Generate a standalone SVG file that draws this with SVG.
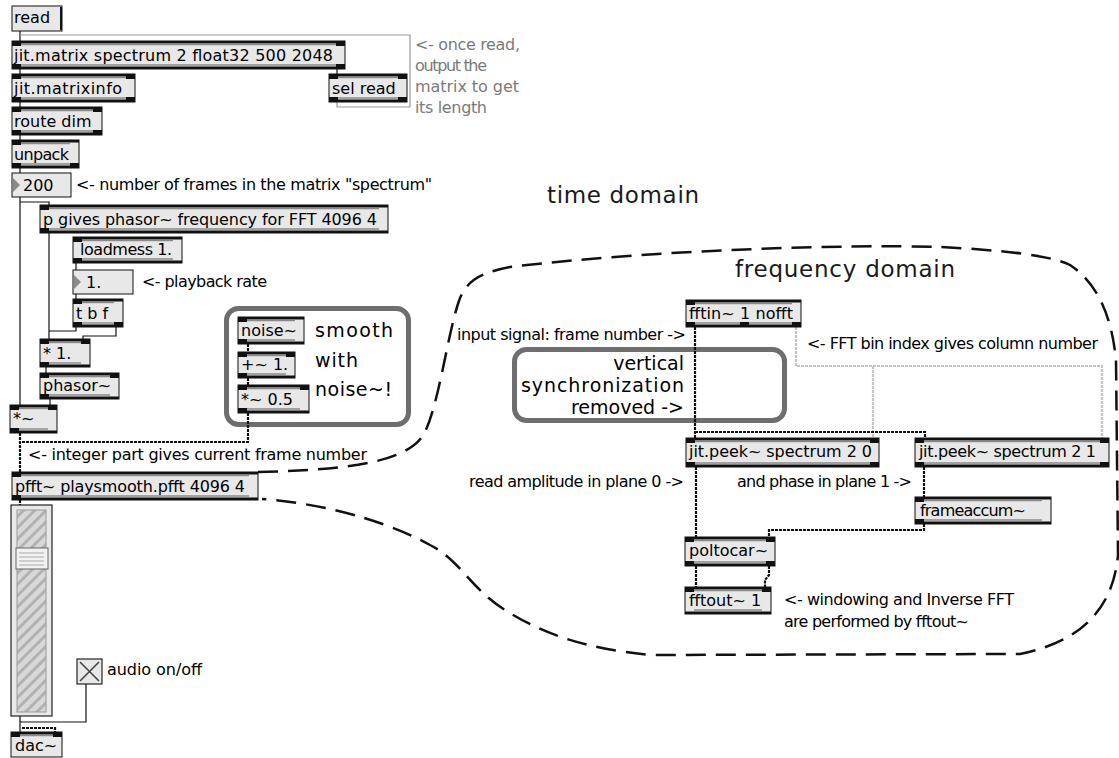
<svg xmlns="http://www.w3.org/2000/svg" width="1119" height="758" viewBox="0 0 1119 758">
<style>
.body{fill:#e8e8e8;stroke:#111;stroke-width:1}
.bar{fill:#111}
.hl{stroke:#8a8a8a;stroke-width:1.4}
.t{font-family:"DejaVu Sans",sans-serif;font-size:16px;fill:#000}
.g{fill:#7a7a7a}
.big{font-family:"DejaVu Sans",sans-serif;font-size:19px;fill:#000}
.dom{font-family:"DejaVu Sans",sans-serif;font-size:23px;fill:#1a1a1a}
.w{fill:none;stroke:#111;stroke-width:1.2}
.gw{fill:none;stroke:#999;stroke-width:1.2}
.sig{fill:none;stroke:#111;stroke-width:2.2;stroke-dasharray:3 1}
.gsig{fill:none;stroke:#c4c4c4;stroke-width:2.2;stroke-dasharray:3 1}
.frame{fill:#fff;stroke:#6e6e6e;stroke-width:5}
.domain{fill:none;stroke:#111;stroke-width:2.5;stroke-dasharray:20 10}
.num{fill:#e8e8e8;stroke:#111;stroke-width:1}
.tri{fill:#8a8a8a}
</style>
<defs>
<pattern id="stripes" width="8" height="8" patternUnits="userSpaceOnUse" patternTransform="rotate(45)">
<rect width="8" height="8" fill="#d8d8d8"/><rect width="3" height="8" fill="#b2b2b2"/>
</pattern>
</defs>
<rect width="1119" height="758" fill="#fff"/>

<g id="domains">
<path class="domain" d="M258,472 C350,470 410,462 425,432 C440,400 448,330 460,298 C468,280 480,273 510,267 C650,250 850,244 940,247 C1000,250 1050,255 1070,265 C1100,285 1112,320 1116,360 L1118,555 C1114,600 1090,640 1020,654 L650,655 C580,648 540,632 505,610 C470,588 460,560 430,545 C400,528 340,505 262,499"/>
<text class="dom" x="547" y="203" textLength="152">time domain</text>
<text class="dom" x="735" y="277" textLength="220">frequency domain</text>
</g>

<g id="frames">
<rect class="frame" x="226.5" y="308.5" width="182" height="116" rx="12"/>
<rect class="frame" x="514.5" y="349.5" width="270" height="71" rx="12"/>
<text class="big" x="315" y="337" textLength="78">smooth</text>
<text class="big" x="315" y="367" textLength="43">with</text>
<text class="big" x="315" y="396" textLength="77">noise~!</text>
<text class="big" x="684" y="370" text-anchor="end">vertical</text>
<text class="big" x="684" y="392" text-anchor="end" textLength="163">synchronization</text>
<text class="big" x="684" y="414" text-anchor="end">removed -&gt;</text>
</g>

<g id="connectors">
<path class="w" d="M20,31 V41"/>
<path class="gw" d="M337,102 V107 H410 V35 H20"/>
<path class="w" d="M20,69 V74 M337,69 V74 M20,102 V107 M20,135 V140 M20,168 V173"/>
<path class="w" d="M20,197 V405 M20,202 H49 V205"/>
<path class="w" d="M49,233 V339"/>
<path class="w" d="M76,263 V270 M76,294 V299"/>
<path class="w" d="M76,327 V331 H49"/>
<path class="w" d="M116,327 V336 H83 V339"/>
<path class="w" d="M46,367 V373 M50,399 V405"/>
<path class="sig" d="M248,344 V352 M248,378 V385"/>
<path class="sig" d="M248,413 V442 H20 M20,433 V472"/>
<path class="sig" d="M20,500 V505"/>
<path class="w" d="M20,716 V732 M86,684 V722 H20"/>
<path class="sig" d="M22,728 H55 V732"/>
<path class="gsig" d="M796,327 V366 H1102 V438 M873,366 V438"/>
<path class="sig" d="M695,327 V438 M695,432 H925 V438"/>
<path class="sig" d="M696,467 V537"/>
<path class="sig" d="M924,467 V497"/>
<path class="sig" d="M924,524 V530 H769 V537"/>
<path class="sig" d="M696,566 V587 M769,566 V575 L765,580 V587"/>
</g>

<g id="comments">
<text class="t g" x="415" y="50" textLength="105">&lt;- once read,</text>
<text class="t g" x="415" y="71" textLength="72">output the</text>
<text class="t g" x="415" y="92" textLength="104">matrix to get</text>
<text class="t g" x="415" y="113" textLength="72">its length</text>
<text class="t" x="76" y="190" textLength="356">&lt;- number of frames in the matrix "spectrum"</text>
<text class="t" x="142" y="287" textLength="125">&lt;- playback rate</text>
<text class="t" x="28" y="460" textLength="339">&lt;- integer part gives current frame number</text>
<text class="t" x="107" y="675" textLength="95">audio on/off</text>
<text class="t" x="457" y="340" textLength="229">input signal: frame number -&gt;</text>
<text class="t" x="807" y="349" textLength="291">&lt;- FFT bin index gives column number</text>
<text class="t" x="469" y="487" textLength="215">read amplitude in plane 0 -&gt;</text>
<text class="t" x="737" y="487" textLength="175">and phase in plane 1 -&gt;</text>
<text class="t" x="784" y="605" textLength="230">&lt;- windowing and Inverse FFT</text>
<text class="t" x="784" y="627" textLength="185">are performed by fftout~</text>
</g>

<g id="n-read">
<rect class="num" x="12" y="6" width="50" height="25"/>
<line x1="61" y1="7" x2="61" y2="30" stroke="#111" stroke-width="2"/>
<text class="t" x="14" y="23">read</text>
</g>

<g id="n-jitmatrix">
<rect class="body" x="12" y="41" width="333" height="28"/>
<rect class="bar" x="12" y="41" width="333" height="2.5"/><rect class="bar" x="12" y="41" width="9" height="5"/><rect class="bar" x="336" y="41" width="9" height="5"/>
<line class="hl" x1="21" y1="44.5" x2="336" y2="44.5"/><line class="hl" x1="21" y1="65" x2="336" y2="65"/>
<rect class="bar" x="12" y="66.5" width="333" height="2.5"/><rect class="bar" x="12" y="64" width="9" height="5"/><rect class="bar" x="336" y="64" width="9" height="5"/>
<text class="t" x="14" y="61" textLength="319">jit.matrix spectrum 2 float32 500 2048</text>
</g>

<g id="n-matrixinfo">
<rect class="body" x="12" y="74" width="123" height="28"/>
<rect class="bar" x="12" y="74" width="123" height="2.5"/><rect class="bar" x="12" y="74" width="9" height="5"/><rect class="bar" x="126" y="74" width="9" height="5"/>
<line class="hl" x1="21" y1="77.5" x2="126" y2="77.5"/><line class="hl" x1="21" y1="98" x2="126" y2="98"/>
<rect class="bar" x="12" y="99.5" width="123" height="2.5"/><rect class="bar" x="12" y="97" width="9" height="5"/><rect class="bar" x="126" y="97" width="9" height="5"/>
<text class="t" x="14" y="94" textLength="108">jit.matrixinfo</text>
</g>

<g id="n-selread">
<rect class="body" x="329" y="74" width="78" height="28"/>
<rect class="bar" x="329" y="74" width="78" height="2.5"/><rect class="bar" x="329" y="74" width="9" height="5"/><rect class="bar" x="398" y="74" width="9" height="5"/>
<line class="hl" x1="338" y1="77.5" x2="398" y2="77.5"/><line class="hl" x1="338" y1="98" x2="398" y2="98"/>
<rect class="bar" x="329" y="99.5" width="78" height="2.5"/><rect class="bar" x="329" y="97" width="9" height="5"/><rect class="bar" x="398" y="97" width="9" height="5"/>
<text class="t" x="332" y="94">sel read</text>
</g>

<g id="n-routedim">
<rect class="body" x="12" y="107" width="90" height="28"/>
<rect class="bar" x="12" y="107" width="90" height="2.5"/><rect class="bar" x="12" y="107" width="9" height="5"/><rect class="bar" x="93" y="107" width="9" height="5"/>
<line class="hl" x1="21" y1="110.5" x2="93" y2="110.5"/><line class="hl" x1="21" y1="131" x2="93" y2="131"/>
<rect class="bar" x="12" y="132.5" width="90" height="2.5"/><rect class="bar" x="12" y="130" width="9" height="5"/><rect class="bar" x="93" y="130" width="9" height="5"/>
<text class="t" x="14" y="127">route dim</text>
</g>

<g id="n-unpack">
<rect class="body" x="12" y="140" width="67" height="28"/>
<rect class="bar" x="12" y="140" width="67" height="2.5"/><rect class="bar" x="12" y="140" width="9" height="5"/>
<line class="hl" x1="21" y1="143.5" x2="70" y2="143.5"/><line class="hl" x1="21" y1="164" x2="70" y2="164"/>
<rect class="bar" x="12" y="165.5" width="67" height="2.5"/><rect class="bar" x="12" y="163" width="9" height="5"/><rect class="bar" x="70" y="163" width="9" height="5"/>
<text class="t" x="14" y="160" textLength="55">unpack</text>
</g>

<g id="n-num200">
<rect class="num" x="12" y="173" width="59" height="24"/>
<polygon class="tri" points="13,178 20,185 13,192"/>
<text class="t" x="23" y="191">200</text>
</g>

<g id="n-pgives">
<rect class="body" x="40" y="205" width="348" height="28"/>
<rect class="bar" x="40" y="205" width="348" height="2.5"/><rect class="bar" x="40" y="205" width="9" height="5"/>
<line class="hl" x1="49" y1="208.5" x2="379" y2="208.5"/><line class="hl" x1="49" y1="229" x2="379" y2="229"/>
<rect class="bar" x="40" y="230.5" width="348" height="2.5"/><rect class="bar" x="40" y="228" width="9" height="5"/>
<text class="t" x="43" y="225" textLength="334">p gives phasor~ frequency for FFT 4096 4</text>
</g>

<g id="n-loadmess">
<rect class="body" x="73" y="237" width="109" height="26"/>
<rect class="bar" x="73" y="237" width="109" height="2.5"/><rect class="bar" x="73" y="237" width="9" height="5"/>
<line class="hl" x1="82" y1="240.5" x2="173" y2="240.5"/><line class="hl" x1="82" y1="259" x2="173" y2="259"/>
<rect class="bar" x="73" y="260.5" width="109" height="2.5"/><rect class="bar" x="73" y="258" width="9" height="5"/>
<text class="t" x="80" y="255" textLength="92">loadmess 1.</text>
</g>

<g id="n-num1">
<rect class="num" x="73" y="270" width="60" height="24"/>
<polygon class="tri" points="74,275 81,282 74,289"/>
<text class="t" x="86" y="288">1.</text>
</g>

<g id="n-tbf">
<rect class="body" x="73" y="299" width="50" height="28"/>
<rect class="bar" x="73" y="299" width="50" height="2.5"/><rect class="bar" x="73" y="299" width="9" height="5"/>
<line class="hl" x1="82" y1="302.5" x2="114" y2="302.5"/><line class="hl" x1="82" y1="323" x2="114" y2="323"/>
<rect class="bar" x="73" y="324.5" width="50" height="2.5"/><rect class="bar" x="73" y="322" width="9" height="5"/><rect class="bar" x="114" y="322" width="9" height="5"/>
<text class="t" x="76" y="319">t b f</text>
</g>

<g id="n-mul1">
<rect class="body" x="40" y="339" width="50" height="28"/>
<rect class="bar" x="40" y="339" width="50" height="2.5"/><rect class="bar" x="40" y="339" width="9" height="5"/><rect class="bar" x="81" y="339" width="9" height="5"/>
<line class="hl" x1="49" y1="342.5" x2="81" y2="342.5"/><line class="hl" x1="49" y1="363" x2="81" y2="363"/>
<rect class="bar" x="40" y="364.5" width="50" height="2.5"/><rect class="bar" x="40" y="362" width="9" height="5"/>
<text class="t" x="43" y="359">* 1.</text>
</g>

<g id="n-phasor">
<rect class="body" x="40" y="373" width="79" height="26"/>
<rect class="bar" x="40" y="373" width="79" height="2.5"/><rect class="bar" x="40" y="373" width="9" height="5"/><rect class="bar" x="110" y="373" width="9" height="5"/>
<line class="hl" x1="49" y1="376.5" x2="110" y2="376.5"/><line class="hl" x1="49" y1="395" x2="110" y2="395"/>
<rect class="bar" x="40" y="396.5" width="79" height="2.5"/><rect class="bar" x="40" y="394" width="9" height="5"/>
<text class="t" x="43" y="391">phasor~</text>
</g>

<g id="n-mulsig">
<rect class="body" x="10" y="405" width="47" height="28"/>
<rect class="bar" x="10" y="405" width="47" height="2.5"/><rect class="bar" x="10" y="405" width="9" height="5"/><rect class="bar" x="48" y="405" width="9" height="5"/>
<line class="hl" x1="19" y1="408.5" x2="48" y2="408.5"/><line class="hl" x1="19" y1="429" x2="48" y2="429"/>
<rect class="bar" x="10" y="430.5" width="47" height="2.5"/><rect class="bar" x="10" y="428" width="9" height="5"/>
<text class="t" x="13" y="424">*~</text>
</g>

<g id="n-noise">
<rect class="body" x="238" y="317" width="66" height="27"/>
<rect class="bar" x="238" y="317" width="66" height="2.5"/><rect class="bar" x="238" y="317" width="9" height="5"/>
<line class="hl" x1="247" y1="320.5" x2="295" y2="320.5"/><line class="hl" x1="247" y1="340" x2="295" y2="340"/>
<rect class="bar" x="238" y="341.5" width="66" height="2.5"/><rect class="bar" x="238" y="339" width="9" height="5"/>
<text class="t" x="241" y="336">noise~</text>
</g>

<g id="n-addsig">
<rect class="body" x="238" y="352" width="57" height="26"/>
<rect class="bar" x="238" y="352" width="57" height="2.5"/><rect class="bar" x="238" y="352" width="9" height="5"/><rect class="bar" x="286" y="352" width="9" height="5"/>
<line class="hl" x1="247" y1="355.5" x2="286" y2="355.5"/><line class="hl" x1="247" y1="374" x2="286" y2="374"/>
<rect class="bar" x="238" y="375.5" width="57" height="2.5"/><rect class="bar" x="238" y="373" width="9" height="5"/>
<text class="t" x="241" y="370">+~ 1.</text>
</g>

<g id="n-mulhalf">
<rect class="body" x="238" y="385" width="71" height="28"/>
<rect class="bar" x="238" y="385" width="71" height="2.5"/><rect class="bar" x="238" y="385" width="9" height="5"/><rect class="bar" x="300" y="385" width="9" height="5"/>
<line class="hl" x1="247" y1="388.5" x2="300" y2="388.5"/><line class="hl" x1="247" y1="409" x2="300" y2="409"/>
<rect class="bar" x="238" y="410.5" width="71" height="2.5"/><rect class="bar" x="238" y="408" width="9" height="5"/>
<text class="t" x="241" y="405">*~ 0.5</text>
</g>

<g id="n-pfft">
<rect class="body" x="12" y="472" width="246" height="28"/>
<rect class="bar" x="12" y="472" width="246" height="2.5"/><rect class="bar" x="12" y="472" width="9" height="5"/>
<line class="hl" x1="21" y1="475.5" x2="249" y2="475.5"/><line class="hl" x1="21" y1="496" x2="249" y2="496"/>
<rect class="bar" x="12" y="497.5" width="246" height="2.5"/><rect class="bar" x="12" y="495" width="9" height="5"/>
<text class="t" x="15" y="492" textLength="230">pfft~ playsmooth.pfft 4096 4</text>
</g>

<g id="n-slider">
<rect x="11" y="505" width="41" height="211" fill="#e8e8e8" stroke="#222" stroke-width="1.2"/>
<rect x="17" y="510" width="29" height="202" fill="url(#stripes)" stroke="#999" stroke-width="1"/>
<rect x="16" y="548" width="32" height="21" fill="#f2f2f2" stroke="#666" stroke-width="1"/>
<path d="M19,553 H44 M19,557 H44 M19,561 H44 M19,565 H44" stroke="#aaa" stroke-width="1"/>
</g>

<g id="n-toggle">
<rect x="77" y="659" width="25" height="25" fill="#e8e8e8" stroke="#222" stroke-width="1.2"/>
<path d="M80,662 L99,681 M99,662 L80,681" stroke="#444" stroke-width="1.6"/>
</g>

<g id="n-dac">
<rect class="body" x="11" y="732" width="51" height="25"/>
<rect class="bar" x="11" y="732" width="51" height="2.5"/><rect class="bar" x="11" y="732" width="9" height="5"/><rect class="bar" x="53" y="732" width="9" height="5"/>
<line class="hl" x1="20" y1="735.5" x2="53" y2="735.5"/>
<text class="t" x="15" y="751">dac~</text>
</g>

<g id="n-fftin">
<rect class="body" x="686" y="300" width="115" height="27"/>
<rect class="bar" x="686" y="300" width="115" height="2.5"/><rect class="bar" x="686" y="300" width="9" height="5"/>
<line class="hl" x1="695" y1="303.5" x2="792" y2="303.5"/><line class="hl" x1="695" y1="323" x2="792" y2="323"/>
<rect class="bar" x="686" y="324.5" width="115" height="2.5"/><rect class="bar" x="686" y="322" width="9" height="5"/><rect class="bar" x="740" y="322" width="9" height="5"/><rect class="bar" x="792" y="322" width="9" height="5"/>
<text class="t" x="689" y="319" textLength="104">fftin~ 1 nofft</text>
</g>

<g id="n-peek0">
<rect class="body" x="686" y="438" width="193" height="29"/>
<rect class="bar" x="686" y="438" width="193" height="2.5"/><rect class="bar" x="686" y="438" width="9" height="5"/><rect class="bar" x="870" y="438" width="9" height="5"/>
<line class="hl" x1="695" y1="441.5" x2="870" y2="441.5"/><line class="hl" x1="695" y1="463" x2="870" y2="463"/>
<rect class="bar" x="686" y="464.5" width="193" height="2.5"/><rect class="bar" x="686" y="462" width="9" height="5"/><rect class="bar" x="870" y="462" width="9" height="5"/>
<text class="t" x="689" y="457" textLength="183">jit.peek~ spectrum 2 0</text>
</g>

<g id="n-peek1">
<rect class="body" x="915" y="438" width="194" height="29"/>
<rect class="bar" x="915" y="438" width="194" height="2.5"/><rect class="bar" x="915" y="438" width="9" height="5"/><rect class="bar" x="1100" y="438" width="9" height="5"/>
<line class="hl" x1="924" y1="441.5" x2="1100" y2="441.5"/><line class="hl" x1="924" y1="463" x2="1100" y2="463"/>
<rect class="bar" x="915" y="464.5" width="194" height="2.5"/><rect class="bar" x="915" y="462" width="9" height="5"/><rect class="bar" x="1100" y="462" width="9" height="5"/>
<text class="t" x="919" y="457" textLength="177">jit.peek~ spectrum 2 1</text>
</g>

<g id="n-frameaccum">
<rect class="body" x="915" y="497" width="136" height="27"/>
<rect class="bar" x="915" y="497" width="136" height="2.5"/><rect class="bar" x="915" y="497" width="9" height="5"/>
<line class="hl" x1="924" y1="500.5" x2="1042" y2="500.5"/><line class="hl" x1="924" y1="520" x2="1042" y2="520"/>
<rect class="bar" x="915" y="521.5" width="136" height="2.5"/><rect class="bar" x="915" y="519" width="9" height="5"/>
<text class="t" x="920" y="516" textLength="106">frameaccum~</text>
</g>

<g id="n-poltocar">
<rect class="body" x="685" y="537" width="90" height="29"/>
<rect class="bar" x="685" y="537" width="90" height="2.5"/><rect class="bar" x="685" y="537" width="9" height="5"/><rect class="bar" x="766" y="537" width="9" height="5"/>
<line class="hl" x1="694" y1="540.5" x2="766" y2="540.5"/><line class="hl" x1="694" y1="562" x2="766" y2="562"/>
<rect class="bar" x="685" y="563.5" width="90" height="2.5"/><rect class="bar" x="685" y="561" width="9" height="5"/><rect class="bar" x="766" y="561" width="9" height="5"/>
<text class="t" x="689" y="556">poltocar~</text>
</g>

<g id="n-fftout">
<rect class="body" x="685" y="587" width="86" height="27"/>
<rect class="bar" x="685" y="587" width="86" height="2.5"/><rect class="bar" x="685" y="587" width="9" height="5"/><rect class="bar" x="762" y="587" width="9" height="5"/>
<line class="hl" x1="694" y1="590.5" x2="762" y2="590.5"/><line class="hl" x1="694" y1="610" x2="762" y2="610"/>
<rect class="bar" x="685" y="611.5" width="86" height="2.5"/>
<text class="t" x="689" y="606">fftout~ 1</text>
</g>
</svg>
